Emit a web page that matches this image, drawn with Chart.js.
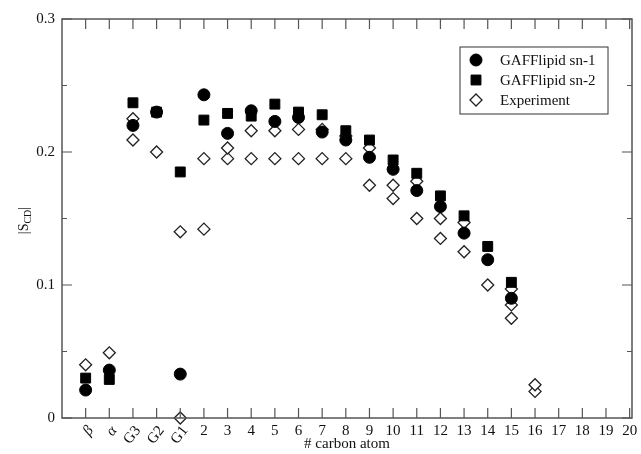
<!DOCTYPE html>
<html>
<head>
<meta charset="utf-8">
<script src="https://cdn.jsdelivr.net/npm/chart.js@4.4.0/dist/chart.umd.min.js"></script>
<style>
  html, body { margin: 0; padding: 0; background: #fff; }
  #wrap { width: 641px; height: 454px; }
</style>
</head>
<body>
<div id="wrap"><canvas id="orderChart"></canvas></div>
<script>
// carbon positions along the chain (index = x position)
const carbons = ['β', 'α', 'G3', 'G2', 'G1', '2', '3', '4', '5', '6', '7', '8', '9', '10',
  '11', '12', '13', '14', '15', '16', '17', '18', '19', '20'];

const sn1 = [0.021, 0.036, 0.220, 0.230, 0.033, 0.243, 0.214, 0.231, 0.223, 0.226, 0.215, 0.209,
  0.196, 0.187, 0.171, 0.159, 0.139, 0.119, 0.090, null, null, null, null, null];
const sn2 = [0.030, 0.029, 0.237, 0.230, 0.185, 0.224, 0.229, 0.227, 0.236, 0.230, 0.228, 0.216,
  0.209, 0.194, 0.184, 0.167, 0.152, 0.129, 0.102, null, null, null, null, null];
// experiment has up to three values per carbon
const expUpper = [0.040, 0.049, 0.225, 0.200, 0.140, 0.195, 0.203, 0.216, 0.216, 0.217, 0.217, 0.212,
  0.203, 0.175, 0.178, 0.150, 0.147, 0.100, 0.097, 0.025, null, null, null, null];
const expLower = [null, null, 0.209, null, 0.0, 0.142, 0.195, 0.195, 0.195, 0.195, 0.195, 0.195,
  0.175, 0.165, 0.150, 0.135, 0.125, null, 0.085, 0.020, null, null, null, null];
const expExtra = [null, null, null, null, null, null, null, null, null, null, null, null,
  null, null, null, null, null, null, 0.075, null, null, null, null, null];

const yTicks = [0, 0.1, 0.2, 0.3];
const yMinor = [0.05, 0.15, 0.25];

const toPoints = arr => arr.map((v, i) => ({ x: i, y: v })).filter(p => p.y !== null);

const serif = '"Liberation Serif", "DejaVu Serif", serif';
const axisColor = '#555';

const markerSn1 = { pointStyle: 'circle', pointRadius: 6, backgroundColor: '#000', borderColor: '#000', borderWidth: 1 };
const markerSn2 = { pointStyle: 'rect', pointRadius: 7, backgroundColor: '#000', borderColor: '#000', borderWidth: 1 };
const markerExp = { pointStyle: 'rectRot', pointRadius: 6, backgroundColor: '#fff', borderColor: '#222', borderWidth: 1.3 };

const frame = {
  id: 'frame',
  afterDraw(chart) {
    const ctx = chart.ctx;
    const a = chart.chartArea;
    const xs = chart.scales.x, ys = chart.scales.y;
    ctx.save();
    ctx.strokeStyle = axisColor;
    ctx.lineWidth = 1.5;
    ctx.strokeRect(a.left, a.top, a.right - a.left, a.bottom - a.top);

    // inward ticks
    ctx.lineWidth = 1.2;
    ctx.beginPath();
    carbons.forEach((c, i) => {
      const px = xs.getPixelForValue(i);
      ctx.moveTo(px, a.bottom); ctx.lineTo(px, a.bottom - 10);
      ctx.moveTo(px, a.top); ctx.lineTo(px, a.top + 10);
    });
    yTicks.forEach(v => {
      const py = ys.getPixelForValue(v);
      ctx.moveTo(a.left, py); ctx.lineTo(a.left + 10, py);
      ctx.moveTo(a.right, py); ctx.lineTo(a.right - 10, py);
    });
    yMinor.forEach(v => {
      const py = ys.getPixelForValue(v);
      ctx.moveTo(a.left, py); ctx.lineTo(a.left + 5, py);
      ctx.moveTo(a.right, py); ctx.lineTo(a.right - 5, py);
    });
    ctx.stroke();

    // tick labels
    ctx.fillStyle = '#111';
    ctx.font = '15px ' + serif;
    ctx.textAlign = 'right';
    ctx.textBaseline = 'middle';
    yTicks.forEach(v => {
      ctx.fillText(v === 0 ? '0' : String(v), a.left - 7, ys.getPixelForValue(v));
    });
    carbons.forEach((c, i) => {
      const px = xs.getPixelForValue(i);
      if (i < 5) {
        ctx.save();
        ctx.translate(px + 5, a.bottom + 10);
        ctx.rotate(-52 * Math.PI / 180);
        ctx.textAlign = 'right';
        ctx.font = (i < 2 ? 'italic ' : '') + '15px ' + serif;
        ctx.fillText(c, 0, 0);
        ctx.restore();
      } else {
        ctx.textAlign = 'center';
        ctx.fillText(c, px, a.bottom + 13);
      }
    });

    // axis titles
    ctx.font = '15px ' + serif;
    ctx.textAlign = 'center';
    ctx.fillText('# carbon atom', (a.left + a.right) / 2, a.bottom + 26);

    ctx.save();
    ctx.translate(24, (a.top + a.bottom) / 2 + 2);
    ctx.rotate(-Math.PI / 2);
    ctx.textAlign = 'left';
    ctx.font = '14px ' + serif;
    const w1 = ctx.measureText('|S').width;
    ctx.font = '10px ' + serif;
    const w2 = ctx.measureText('CD').width;
    ctx.font = '14px ' + serif;
    const w3 = ctx.measureText('|').width;
    const tx = -(w1 + w2 + w3) / 2;
    ctx.fillText('|S', tx, 0);
    ctx.font = '10px ' + serif;
    ctx.fillText('CD', tx + w1, 4);
    ctx.font = '14px ' + serif;
    ctx.fillText('|', tx + w1 + w2, 0);
    ctx.restore();

    // legend box
    const lx = 460, ly = 47, lw = 148, lh = 67;
    ctx.strokeStyle = '#333';
    ctx.lineWidth = 1;
    ctx.strokeRect(lx, ly, lw, lh);
    const entries = [
      ['GAFFlipid sn-1', markerSn1],
      ['GAFFlipid sn-2', markerSn2],
      ['Experiment', markerExp]
    ];
    entries.forEach(([label, m], k) => {
      const cy = ly + 13 + k * 20;
      ctx.fillStyle = m.backgroundColor;
      ctx.strokeStyle = m.borderColor;
      ctx.lineWidth = m.borderWidth;
      Chart.helpers.drawPoint(ctx, { pointStyle: m.pointStyle, radius: m.pointRadius, rotation: 0, borderWidth: m.borderWidth }, lx + 16, cy);
      ctx.fillStyle = '#111';
      ctx.font = '15px ' + serif;
      ctx.textAlign = 'left';
      ctx.fillText(label, lx + 40, cy + 1);
    });
    ctx.restore();
  }
};

new Chart(
  document.getElementById('orderChart'),
  {
    type: 'scatter',
    data: {
      datasets: [
        { label: 'GAFFlipid sn-1', data: toPoints(sn1), ...markerSn1, clip: false },
        { label: 'GAFFlipid sn-2', data: toPoints(sn2), ...markerSn2, clip: false },
        { label: 'Experiment', data: toPoints(expUpper), ...markerExp, clip: false },
        { label: 'Experiment', data: toPoints(expLower), ...markerExp, clip: false },
        { label: 'Experiment', data: toPoints(expExtra), ...markerExp, clip: false }
      ]
    },
    options: {
      responsive: true,
      maintainAspectRatio: false,
      animation: false,
      layout: { padding: { left: 62, top: 19, right: 9, bottom: 36 } },
      plugins: { legend: { display: false }, tooltip: { enabled: false } },
      scales: {
        x: { type: 'linear', min: -1, max: 23.1, display: false },
        y: { type: 'linear', min: 0, max: 0.3, display: false }
      }
    },
    plugins: [frame]
  }
);
</script>
</body>
</html>
